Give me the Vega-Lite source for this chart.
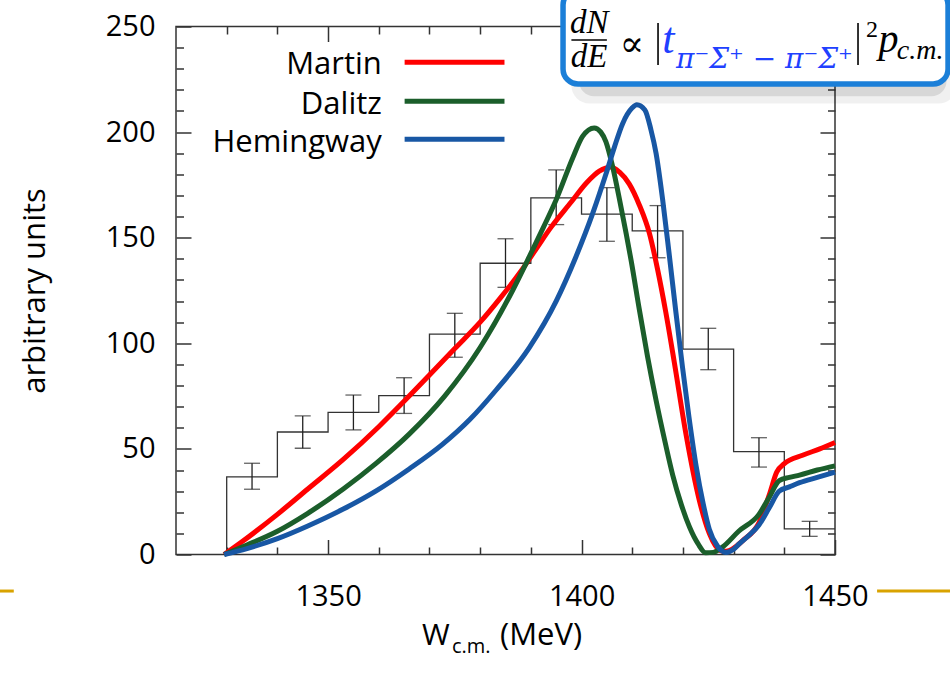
{
  "$schema": "https://vega.github.io/schema/vega-lite/v6.json",
  "width": 659,
  "height": 528,
  "autosize": {"type": "none"},
  "padding": {"left": 176, "top": 26.5, "right": 115, "bottom": 120.5},
  "background": "white",
  "config": {"view": {"stroke": "#333", "strokeWidth": 1.5}, "font": "Open Sans"},
  "data": {"values": [{}]},
  "datasets": {
    "hist": [
      {"i": 0, "W": 1330, "c": 0},
      {"i": 1, "W": 1330, "c": 36.8},
      {"i": 2, "W": 1340, "c": 58.0},
      {"i": 3, "W": 1350, "c": 67.3},
      {"i": 4, "W": 1360, "c": 75.2},
      {"i": 5, "W": 1370, "c": 104.3},
      {"i": 6, "W": 1380, "c": 137.9},
      {"i": 7, "W": 1390, "c": 168.9},
      {"i": 8, "W": 1400, "c": 161.2},
      {"i": 9, "W": 1410, "c": 153.2},
      {"i": 10, "W": 1420, "c": 97.2},
      {"i": 11, "W": 1430, "c": 48.7},
      {"i": 12, "W": 1440, "c": 12.1},
      {"i": 13, "W": 1450, "c": 12.1}
    ],
    "err": [
      {"W": 1335, "lo": 30.9, "hi": 43.2},
      {"W": 1345, "lo": 50.3, "hi": 65.6},
      {"W": 1355, "lo": 59.0, "hi": 75.5},
      {"W": 1365, "lo": 66.8, "hi": 83.7},
      {"W": 1375, "lo": 93.4, "hi": 114.2},
      {"W": 1385, "lo": 126.5, "hi": 149.5},
      {"W": 1395, "lo": 156.2, "hi": 182.1},
      {"W": 1405, "lo": 148.3, "hi": 173.7},
      {"W": 1415, "lo": 140.5, "hi": 165.2},
      {"W": 1425, "lo": 87.5, "hi": 107.1},
      {"W": 1435, "lo": 41.4, "hi": 55.3},
      {"W": 1445, "lo": 8.6, "hi": 15.7}
    ],
    "curves": [
      {"model": "Martin", "W": 1329.5, "v": 0},
      {"model": "Martin", "W": 1333, "v": 6},
      {"model": "Martin", "W": 1340, "v": 19},
      {"model": "Martin", "W": 1346, "v": 31},
      {"model": "Martin", "W": 1353, "v": 45},
      {"model": "Martin", "W": 1360, "v": 60.5},
      {"model": "Martin", "W": 1366, "v": 75},
      {"model": "Martin", "W": 1370, "v": 85},
      {"model": "Martin", "W": 1375, "v": 97.5},
      {"model": "Martin", "W": 1380, "v": 110},
      {"model": "Martin", "W": 1384, "v": 121.5},
      {"model": "Martin", "W": 1388, "v": 134},
      {"model": "Martin", "W": 1391, "v": 144.5},
      {"model": "Martin", "W": 1394, "v": 155},
      {"model": "Martin", "W": 1398, "v": 167},
      {"model": "Martin", "W": 1401, "v": 176},
      {"model": "Martin", "W": 1403.5, "v": 181.5},
      {"model": "Martin", "W": 1405.8, "v": 183.5},
      {"model": "Martin", "W": 1407.5, "v": 181},
      {"model": "Martin", "W": 1409.4, "v": 175.5},
      {"model": "Martin", "W": 1411.4, "v": 165.5},
      {"model": "Martin", "W": 1413.4, "v": 152},
      {"model": "Martin", "W": 1415, "v": 135},
      {"model": "Martin", "W": 1416.6, "v": 115},
      {"model": "Martin", "W": 1418.3, "v": 91},
      {"model": "Martin", "W": 1420.6, "v": 57},
      {"model": "Martin", "W": 1423.2, "v": 26},
      {"model": "Martin", "W": 1425.2, "v": 10},
      {"model": "Martin", "W": 1427.3, "v": 2},
      {"model": "Martin", "W": 1428.5, "v": 1.5},
      {"model": "Martin", "W": 1432, "v": 7},
      {"model": "Martin", "W": 1435, "v": 15},
      {"model": "Martin", "W": 1437, "v": 28},
      {"model": "Martin", "W": 1438.5, "v": 39},
      {"model": "Martin", "W": 1440, "v": 43},
      {"model": "Martin", "W": 1443.6, "v": 47},
      {"model": "Martin", "W": 1447, "v": 50},
      {"model": "Martin", "W": 1450, "v": 53},
      {"model": "Dalitz", "W": 1329.5, "v": 0},
      {"model": "Dalitz", "W": 1334, "v": 4.5},
      {"model": "Dalitz", "W": 1340, "v": 11},
      {"model": "Dalitz", "W": 1346, "v": 19.5},
      {"model": "Dalitz", "W": 1353, "v": 31},
      {"model": "Dalitz", "W": 1359.4, "v": 43},
      {"model": "Dalitz", "W": 1366, "v": 57},
      {"model": "Dalitz", "W": 1373, "v": 75},
      {"model": "Dalitz", "W": 1380, "v": 98},
      {"model": "Dalitz", "W": 1386.4, "v": 125},
      {"model": "Dalitz", "W": 1389.7, "v": 141},
      {"model": "Dalitz", "W": 1392.5, "v": 155},
      {"model": "Dalitz", "W": 1395, "v": 168},
      {"model": "Dalitz", "W": 1398.3, "v": 188},
      {"model": "Dalitz", "W": 1400.2, "v": 198},
      {"model": "Dalitz", "W": 1402.5, "v": 202},
      {"model": "Dalitz", "W": 1403.8, "v": 200},
      {"model": "Dalitz", "W": 1404.8, "v": 195.5},
      {"model": "Dalitz", "W": 1406.1, "v": 184},
      {"model": "Dalitz", "W": 1407.5, "v": 168},
      {"model": "Dalitz", "W": 1408.8, "v": 152},
      {"model": "Dalitz", "W": 1409.8, "v": 139},
      {"model": "Dalitz", "W": 1411.4, "v": 116},
      {"model": "Dalitz", "W": 1413, "v": 94},
      {"model": "Dalitz", "W": 1414.7, "v": 73},
      {"model": "Dalitz", "W": 1416.5, "v": 53},
      {"model": "Dalitz", "W": 1418, "v": 37.5},
      {"model": "Dalitz", "W": 1419.7, "v": 23.5},
      {"model": "Dalitz", "W": 1421.3, "v": 13},
      {"model": "Dalitz", "W": 1423, "v": 5},
      {"model": "Dalitz", "W": 1424.5, "v": 0.8},
      {"model": "Dalitz", "W": 1426, "v": 1},
      {"model": "Dalitz", "W": 1427.8, "v": 3.5},
      {"model": "Dalitz", "W": 1431, "v": 11},
      {"model": "Dalitz", "W": 1435, "v": 19},
      {"model": "Dalitz", "W": 1437, "v": 27},
      {"model": "Dalitz", "W": 1439, "v": 35},
      {"model": "Dalitz", "W": 1441, "v": 36.5},
      {"model": "Dalitz", "W": 1443, "v": 37.6},
      {"model": "Dalitz", "W": 1446.5, "v": 40},
      {"model": "Dalitz", "W": 1450, "v": 42},
      {"model": "Hemingway", "W": 1329.5, "v": 0},
      {"model": "Hemingway", "W": 1334, "v": 2.8},
      {"model": "Hemingway", "W": 1340, "v": 7.5},
      {"model": "Hemingway", "W": 1346, "v": 13.5},
      {"model": "Hemingway", "W": 1353, "v": 21.5},
      {"model": "Hemingway", "W": 1359.4, "v": 30},
      {"model": "Hemingway", "W": 1366, "v": 40.5},
      {"model": "Hemingway", "W": 1372.5, "v": 52},
      {"model": "Hemingway", "W": 1378, "v": 64},
      {"model": "Hemingway", "W": 1383.2, "v": 78},
      {"model": "Hemingway", "W": 1389.7, "v": 98},
      {"model": "Hemingway", "W": 1395, "v": 120},
      {"model": "Hemingway", "W": 1398.9, "v": 141},
      {"model": "Hemingway", "W": 1402.2, "v": 161.5},
      {"model": "Hemingway", "W": 1404.8, "v": 180},
      {"model": "Hemingway", "W": 1406.5, "v": 193},
      {"model": "Hemingway", "W": 1408.1, "v": 204},
      {"model": "Hemingway", "W": 1410, "v": 211.5},
      {"model": "Hemingway", "W": 1410.9, "v": 213},
      {"model": "Hemingway", "W": 1412.5, "v": 210.5},
      {"model": "Hemingway", "W": 1413.7, "v": 201},
      {"model": "Hemingway", "W": 1414.7, "v": 190},
      {"model": "Hemingway", "W": 1416, "v": 168},
      {"model": "Hemingway", "W": 1417.3, "v": 142},
      {"model": "Hemingway", "W": 1418.6, "v": 115},
      {"model": "Hemingway", "W": 1419.9, "v": 89},
      {"model": "Hemingway", "W": 1421.2, "v": 65},
      {"model": "Hemingway", "W": 1422.6, "v": 42},
      {"model": "Hemingway", "W": 1424, "v": 24},
      {"model": "Hemingway", "W": 1425.2, "v": 12},
      {"model": "Hemingway", "W": 1426.8, "v": 4},
      {"model": "Hemingway", "W": 1428.5, "v": 1},
      {"model": "Hemingway", "W": 1430, "v": 2.5},
      {"model": "Hemingway", "W": 1431.1, "v": 5},
      {"model": "Hemingway", "W": 1433, "v": 9},
      {"model": "Hemingway", "W": 1435, "v": 14},
      {"model": "Hemingway", "W": 1437, "v": 22},
      {"model": "Hemingway", "W": 1439, "v": 30},
      {"model": "Hemingway", "W": 1441, "v": 32},
      {"model": "Hemingway", "W": 1443, "v": 34},
      {"model": "Hemingway", "W": 1446.5, "v": 36.5},
      {"model": "Hemingway", "W": 1450, "v": 39}
    ]
  },
  "resolve": {"axis": {"x": "independent", "y": "independent"}},
  "layer": [
    {
      "data": {"name": "hist"},
      "mark": {"type": "line", "interpolate": "step-after", "color": "#333", "strokeWidth": 1.3},
      "encoding": {
        "x": {"field": "W", "type": "quantitative", "scale": {"domain": [1320, 1450], "nice": false, "zero": false},
          "axis": {"orient": "bottom", "values": [1350, 1400, 1450], "format": "d", "tickSize": -15, "labelPadding": 43, "domain": false, "grid": false, "title": null, "labelFont": "Open Sans", "labelFontSize": 29, "labelColor": "#000", "tickColor": "#333", "tickWidth": 1.5, "labelFlush": false}},
        "y": {"field": "c", "type": "quantitative", "scale": {"domain": [0, 250], "nice": false, "zero": false},
          "axis": {"orient": "left", "values": [0, 50, 100, 150, 200, 250], "format": "d", "tickSize": -15, "labelPadding": 36, "domain": false, "grid": false, "title": "arbitrary units", "titleFont": "Open Sans", "titleFontSize": 31, "titleFontWeight": "normal", "titlePadding": 54, "titleColor": "#000", "labelFont": "Open Sans", "labelFontSize": 29, "labelColor": "#000", "tickColor": "#333", "tickWidth": 1.5, "labelFlush": false}},
        "order": {"field": "i", "type": "quantitative"}
      }
    },
    {
      "data": {"name": "err"},
      "mark": {"type": "rule", "color": "#222", "strokeWidth": 1.3},
      "encoding": {
        "x": {"field": "W", "type": "quantitative",
          "axis": {"orient": "bottom", "values": [1330, 1340, 1360, 1370, 1380, 1390, 1410, 1420, 1430, 1440], "tickSize": -7.5, "labels": false, "domain": false, "grid": false, "title": null, "tickColor": "#333", "tickWidth": 1.5}},
        "y": {"field": "lo", "type": "quantitative",
          "axis": {"orient": "left", "values": [10, 20, 30, 40, 60, 70, 80, 90, 110, 120, 130, 140, 160, 170, 180, 190, 210, 220, 230, 240], "tickSize": -7.5, "labels": false, "domain": false, "grid": false, "title": null, "tickColor": "#333", "tickWidth": 1.5}},
        "y2": {"field": "hi"}
      }
    },
    {
      "data": {"name": "err"},
      "mark": {"type": "tick", "orient": "horizontal", "size": 16, "thickness": 1.3, "color": "#222"},
      "encoding": {
        "x": {"field": "W", "type": "quantitative",
          "axis": {"orient": "top", "values": [1350, 1400, 1450], "tickSize": -15, "labels": false, "domain": false, "grid": false, "title": null, "tickColor": "#333", "tickWidth": 1.5}},
        "y": {"field": "lo", "type": "quantitative",
          "axis": {"orient": "right", "values": [0, 50, 100, 150, 200, 250], "tickSize": -15, "labels": false, "domain": false, "grid": false, "title": null, "tickColor": "#333", "tickWidth": 1.5}}
      }
    },
    {
      "data": {"name": "err"},
      "mark": {"type": "tick", "orient": "horizontal", "size": 16, "thickness": 1.3, "color": "#222"},
      "encoding": {
        "x": {"field": "W", "type": "quantitative",
          "axis": {"orient": "top", "values": [1330, 1340, 1360, 1370, 1380, 1390, 1410, 1420, 1430, 1440], "tickSize": -7.5, "labels": false, "domain": false, "grid": false, "title": null, "tickColor": "#333", "tickWidth": 1.5}},
        "y": {"field": "hi", "type": "quantitative",
          "axis": {"orient": "right", "values": [10, 20, 30, 40, 60, 70, 80, 90, 110, 120, 130, 140, 160, 170, 180, 190, 210, 220, 230, 240], "tickSize": -7.5, "labels": false, "domain": false, "grid": false, "title": null, "tickColor": "#333", "tickWidth": 1.5}}
      }
    },
    {
      "data": {"name": "curves"},
      "mark": {"type": "line", "strokeWidth": 5, "strokeJoin": "round", "interpolate": "monotone"},
      "encoding": {
        "x": {"field": "W", "type": "quantitative", "axis": null, "scale": {"domain": [1320, 1450], "nice": false, "zero": false}},
        "y": {"field": "v", "type": "quantitative", "axis": null, "scale": {"domain": [0, 250], "nice": false, "zero": false}},
        "color": {"field": "model", "type": "nominal", "scale": {"domain": ["Martin", "Dalitz", "Hemingway"], "range": ["#ff0000", "#1b5e2b", "#1857a4"]}, "legend": null},
        "order": {"field": "W", "type": "quantitative"}
      }
    },
    {
      "mark": {"type": "rule", "strokeWidth": 5},
      "encoding": {
        "x": {"datum": 1365.1, "type": "quantitative", "axis": null}, "x2": {"datum": 1384.8},
        "y": {"datum": 233.1, "type": "quantitative", "axis": null},
        "color": {"datum": "Martin", "type": "nominal", "legend": null}
      }
    },
    {
      "mark": {"type": "rule", "strokeWidth": 5},
      "encoding": {
        "x": {"datum": 1365.1, "type": "quantitative", "axis": null}, "x2": {"datum": 1384.8},
        "y": {"datum": 214.6, "type": "quantitative", "axis": null},
        "color": {"datum": "Dalitz", "type": "nominal", "legend": null}
      }
    },
    {
      "mark": {"type": "rule", "strokeWidth": 5},
      "encoding": {
        "x": {"datum": 1365.1, "type": "quantitative", "axis": null}, "x2": {"datum": 1384.8},
        "y": {"datum": 196.6, "type": "quantitative", "axis": null},
        "color": {"datum": "Hemingway", "type": "nominal", "legend": null}
      }
    },
    {
      "mark": {"type": "text", "text": "Martin", "align": "right", "baseline": "alphabetic", "font": "Open Sans", "fontSize": 31, "color": "#000"},
      "encoding": {"x": {"datum": 1360.6, "type": "quantitative", "axis": null}, "y": {"datum": 227.4, "type": "quantitative", "axis": null}}
    },
    {
      "mark": {"type": "text", "text": "Dalitz", "align": "right", "baseline": "alphabetic", "font": "Open Sans", "fontSize": 31, "color": "#000"},
      "encoding": {"x": {"datum": 1360.6, "type": "quantitative", "axis": null}, "y": {"datum": 208.8, "type": "quantitative", "axis": null}}
    },
    {
      "mark": {"type": "text", "text": "Hemingway", "align": "right", "baseline": "alphabetic", "font": "Open Sans", "fontSize": 31, "color": "#000"},
      "encoding": {"x": {"datum": 1360.6, "type": "quantitative", "axis": null}, "y": {"datum": 190.7, "type": "quantitative", "axis": null}}
    },
    {
      "mark": {"type": "rule", "strokeWidth": 3, "color": "#d9a300"},
      "encoding": {"x": {"datum": 1285, "type": "quantitative", "axis": null}, "x2": {"datum": 1288.0}, "y": {"datum": -17.3, "type": "quantitative", "axis": null}}
    },
    {
      "mark": {"type": "rule", "strokeWidth": 3, "color": "#d9a300"},
      "encoding": {"x": {"datum": 1458.3, "type": "quantitative", "axis": null}, "x2": {"datum": 1475}, "y": {"datum": -17.3, "type": "quantitative", "axis": null}}
    },
    {
      "mark": {"type": "rect", "color": "#000", "opacity": 0.06, "cornerRadius": 18},
      "encoding": {"x": {"datum": 1398, "type": "quantitative", "axis": null}, "x2": {"datum": 1474}, "y": {"datum": 255, "type": "quantitative", "axis": null}, "y2": {"datum": 213.5}}
    },
    {
      "mark": {"type": "rect", "color": "#000", "opacity": 0.1, "cornerRadius": 15},
      "encoding": {"x": {"datum": 1399.5, "type": "quantitative", "axis": null}, "x2": {"datum": 1472}, "y": {"datum": 253, "type": "quantitative", "axis": null}, "y2": {"datum": 217}}
    },
    {
      "mark": {"type": "rect", "fill": "#fff", "stroke": "#1b7fd8", "strokeWidth": 5.5, "cornerRadius": 15},
      "encoding": {"x": {"datum": 1396.35, "type": "quantitative", "axis": null}, "x2": {"datum": 1472.3}, "y": {"datum": 267.3, "type": "quantitative", "axis": null}, "y2": {"datum": 222.8}}
    },
    {
      "mark": {"type": "text", "text": "dN", "align": "center", "baseline": "alphabetic", "font": "Liberation Serif", "fontStyle": "italic", "fontSize": 33, "color": "#000"},
      "encoding": {"x": {"datum": 1401.5, "type": "quantitative", "axis": null}, "y": {"datum": 246.9, "type": "quantitative", "axis": null}}
    },
    {
      "mark": {"type": "rule", "strokeWidth": 1.6, "color": "#000"},
      "encoding": {"x": {"datum": 1398.0, "type": "quantitative", "axis": null}, "x2": {"datum": 1405.0}, "y": {"datum": 243.6, "type": "quantitative", "axis": null}}
    },
    {
      "mark": {"type": "text", "text": "dE", "align": "center", "baseline": "alphabetic", "font": "Liberation Serif", "fontStyle": "italic", "fontSize": 33, "color": "#000"},
      "encoding": {"x": {"datum": 1401.5, "type": "quantitative", "axis": null}, "y": {"datum": 231.0, "type": "quantitative", "axis": null}}
    },
    {
      "mark": {"type": "text", "text": "∝", "align": "center", "baseline": "alphabetic", "font": "DejaVu Serif", "fontSize": 36, "color": "#000"},
      "encoding": {"x": {"datum": 1409.96, "type": "quantitative", "axis": null}, "y": {"datum": 236.0, "type": "quantitative", "axis": null}}
    },
    {
      "mark": {"type": "rule", "strokeWidth": 1.6, "color": "#000"},
      "encoding": {"x": {"datum": 1415.09, "type": "quantitative", "axis": null}, "y": {"datum": 251.7, "type": "quantitative", "axis": null}, "y2": {"datum": 231.8}}
    },
    {
      "mark": {"type": "rule", "strokeWidth": 1.6, "color": "#000"},
      "encoding": {"x": {"datum": 1454.54, "type": "quantitative", "axis": null}, "y": {"datum": 251.7, "type": "quantitative", "axis": null}, "y2": {"datum": 231.8}}
    },
    {
      "mark": {"type": "text", "text": "t", "align": "left", "baseline": "alphabetic", "font": "Liberation Serif", "fontStyle": "italic", "fontSize": 44, "color": "#2040ff"},
      "encoding": {"x": {"datum": 1415.9, "type": "quantitative", "axis": null}, "y": {"datum": 237.4, "type": "quantitative", "axis": null}}
    },
    {
      "mark": {"type": "text", "text": "π⁻Σ⁺ − π⁻Σ⁺", "align": "left", "baseline": "alphabetic", "font": "DejaVu Serif", "fontStyle": "italic", "fontSize": 28, "color": "#2040ff"},
      "encoding": {"x": {"datum": 1418.64, "type": "quantitative", "axis": null}, "y": {"datum": 230.3, "type": "quantitative", "axis": null}}
    },
    {
      "mark": {"type": "text", "text": "2", "align": "left", "baseline": "alphabetic", "font": "Liberation Serif", "fontSize": 24, "color": "#000"},
      "encoding": {"x": {"datum": 1456.1, "type": "quantitative", "axis": null}, "y": {"datum": 244.9, "type": "quantitative", "axis": null}}
    },
    {
      "mark": {"type": "text", "text": "p", "align": "left", "baseline": "alphabetic", "font": "Liberation Serif", "fontStyle": "italic", "fontSize": 40, "color": "#000"},
      "encoding": {"x": {"datum": 1458.6, "type": "quantitative", "axis": null}, "y": {"datum": 237.9, "type": "quantitative", "axis": null}}
    },
    {
      "mark": {"type": "text", "text": "c.m.", "align": "left", "baseline": "alphabetic", "font": "Liberation Serif", "fontStyle": "italic", "fontSize": 28, "color": "#000"},
      "encoding": {"x": {"datum": 1462.2, "type": "quantitative", "axis": null}, "y": {"datum": 234.6, "type": "quantitative", "axis": null}}
    },
    {
      "mark": {"type": "text", "text": "W", "align": "left", "baseline": "alphabetic", "font": "Open Sans", "fontSize": 30, "color": "#000"},
      "encoding": {"x": {"datum": 1368.53, "type": "quantitative", "axis": null}, "y": {"datum": -42.85, "type": "quantitative", "axis": null}}
    },
    {
      "mark": {"type": "text", "text": "c.m.", "align": "left", "baseline": "alphabetic", "font": "Open Sans", "fontSize": 20, "color": "#000"},
      "encoding": {"x": {"datum": 1374.45, "type": "quantitative", "axis": null}, "y": {"datum": -46.6, "type": "quantitative", "axis": null}}
    },
    {
      "mark": {"type": "text", "text": "(MeV)", "align": "left", "baseline": "alphabetic", "font": "Open Sans", "fontSize": 31, "color": "#000"},
      "encoding": {"x": {"datum": 1383.92, "type": "quantitative", "axis": null}, "y": {"datum": -42.85, "type": "quantitative", "axis": null}}
    }
  ]
}
